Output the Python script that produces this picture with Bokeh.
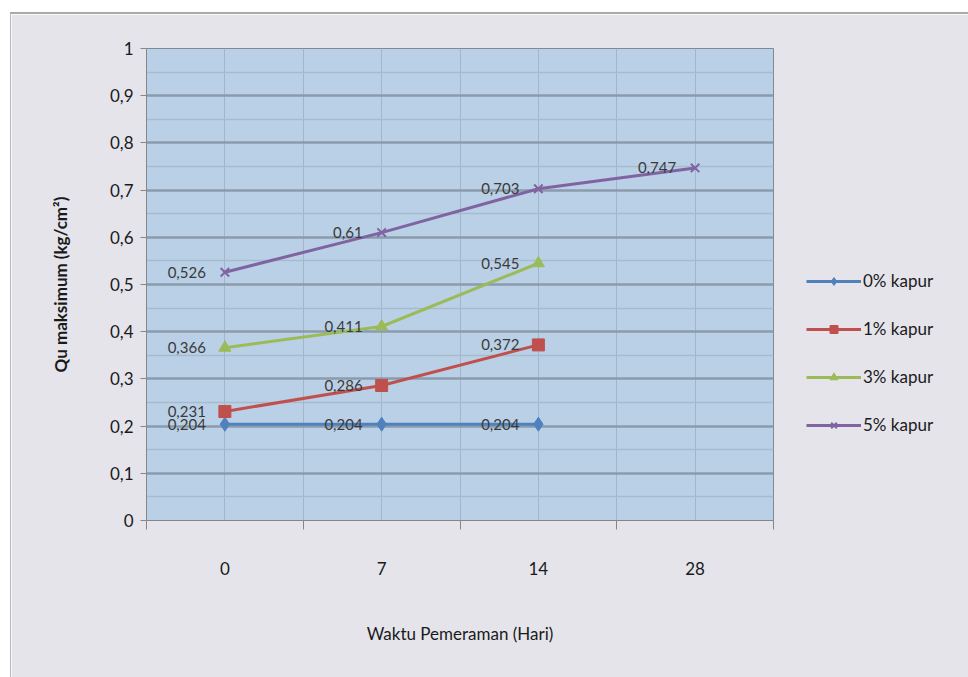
from bokeh.plotting import figure
from bokeh.models import (Range1d, LinearAxis, FixedTicker,
                          Legend, LegendItem, LabelSet, ColumnDataSource)
from bokeh.core.properties import value
from bokeh.embed import file_html
from bokeh.resources import INLINE

# ---- data ----
days = ["0", "7", "14", "28"]
kapur_0 = [0.204, 0.204, 0.204]
kapur_1 = [0.231, 0.286, 0.372]
kapur_3 = [0.366, 0.411, 0.545]
kapur_5 = [0.526, 0.61, 0.703, 0.747]
series_names = ["0% kapur", "1% kapur", "3% kapur", "5% kapur"]
y_ticks = [0, 0.1, 0.2, 0.3, 0.4, 0.5, 0.6, 0.7, 0.8, 0.9, 1.0]
y_tick_labels = ["0", "0,1", "0,2", "0,3", "0,4", "0,5", "0,6", "0,7", "0,8", "0,9", "1"]

FONT = "Lato"
colors = ["#4f81bd", "#c0504d", "#9bbb59", "#8064a2"]
markers = ["diamond", "square", "triangle", "x"]
msizes = [14, 12, 12, 12]

n = len(days)
centers = [i + 0.5 for i in range(n)]       # category slot centres
bounds = list(range(n + 1))                  # category slot boundaries

p = figure(frame_width=627, frame_height=472, x_range=Range1d(0, n),
           y_range=Range1d(0, 1), output_backend="svg", toolbar_location=None,
           x_axis_location=None, y_axis_location="left",
           min_border_left=135, min_border_right=196, min_border_top=34, min_border_bottom=159)
p.margin = (12, 0, 0, 10)
p.styles = {"border-top": "2px solid #a9a9a9", "border-left": "1px solid #b8b8b8",
            "box-sizing": "border-box"}
p.background_fill_color = "#bad0e6"
p.border_fill_color = "#e5e4eb"
p.outline_line_color = "#7f8a96"
p.outline_line_width = 1

# y axis
p.yaxis.ticker = FixedTicker(ticks=y_ticks,
                             minor_ticks=[t + 0.05 for t in y_ticks[:-1]])
p.yaxis.major_label_overrides = {t: lab for t, lab in zip(y_ticks, y_tick_labels)}
p.yaxis.axis_line_color = "#868686"
p.yaxis.major_tick_line_color = "#868686"
p.yaxis.major_tick_out = 6
p.yaxis.major_tick_in = 0
p.yaxis.minor_tick_line_color = None
p.yaxis.major_label_standoff = 7
p.yaxis.major_label_text_font = FONT
p.yaxis.major_label_text_font_size = "17px"
p.yaxis.major_label_text_color = "#1a1a1a"
p.yaxis.axis_label = "Qu maksimum (kg/cm²)"
p.yaxis.axis_label_text_font = FONT
p.yaxis.axis_label_text_font_size = "17px"
p.yaxis.axis_label_text_font_style = "bold"
p.yaxis.axis_label_text_color = "#1a1a1a"
p.yaxis.axis_label_standoff = 36

# x boundary axis (tick marks between categories)
xb = LinearAxis(ticker=FixedTicker(ticks=bounds))
xb.axis_line_color = "#868686"
xb.major_tick_line_color = "#868686"
xb.major_tick_out = 9
xb.major_tick_in = 0
xb.minor_tick_line_color = None
xb.major_label_text_alpha = 0
xb.major_label_text_font_size = "1px"
xb.major_label_standoff = 0
p.add_layout(xb, "below")

# x category label axis
xc = LinearAxis(ticker=FixedTicker(ticks=centers))
xc.major_label_overrides = {c: d for c, d in zip(centers, days)}
xc.axis_line_color = None
xc.major_tick_line_color = None
xc.minor_tick_line_color = None
xc.major_label_standoff = 26
xc.major_label_text_font = FONT
xc.major_label_text_font_size = "17px"
xc.major_label_text_color = "#1a1a1a"
xc.axis_label = "Waktu Pemeraman (Hari)"
xc.axis_label_text_font = FONT
xc.axis_label_text_font_size = "17px"
xc.axis_label_text_font_style = "normal"
xc.axis_label_text_color = "#1a1a1a"
xc.axis_label_standoff = 45
p.add_layout(xc, "below")

# grids
p.ygrid.grid_line_color = "#8a9bac"
p.ygrid.grid_line_width = 2.5
p.ygrid.minor_grid_line_color = "#a6bbcf"
p.ygrid.minor_grid_line_width = 1.5
p.xgrid.ticker = FixedTicker(ticks=sorted(centers + bounds))
p.xgrid.grid_line_color = "#a3b6c9"
p.xgrid.grid_line_width = 1

# series
items = []
lab_x, lab_y, lab_t = [], [], []
for name, vals, c, m, ms in zip(series_names, [kapur_0, kapur_1, kapur_3, kapur_5],
                                colors, markers, msizes):
    xs = centers[:len(vals)]
    l = p.line(xs, vals, line_color=c, line_width=3)
    if m == "x":
        s = p.scatter(xs, vals, marker=m, size=ms, line_color=c, line_width=2)
    else:
        s = p.scatter(xs, vals, marker=m, size=ms, fill_color=c, line_color=c)
    items.append(LegendItem(label=name, renderers=[l, s]))
    lab_x += xs
    lab_y += vals
    lab_t += [str(v).replace(".", ",") for v in vals]

src = ColumnDataSource(dict(x=lab_x, y=lab_y, t=lab_t))
p.add_layout(LabelSet(x="x", y="y", text="t", source=src, x_offset=-19, y_offset=0,
                      text_align="right", text_baseline="middle", text_font=value(FONT),
                      text_font_size="15px", text_color="#3a3a3a"))

legend = Legend(items=items, location=(33, 85), orientation="vertical")
legend.background_fill_alpha = 0
legend.border_line_color = None
legend.padding = 0
legend.margin = 0
legend.spacing = 27
legend.glyph_width = 55
legend.glyph_height = 20
legend.label_height = 20
legend.label_standoff = 2
legend.label_text_font = FONT
legend.label_text_font_size = "17px"
legend.label_text_color = "#1a1a1a"
p.add_layout(legend, "right")

open("out.html", "w").write(file_html(p, INLINE))
